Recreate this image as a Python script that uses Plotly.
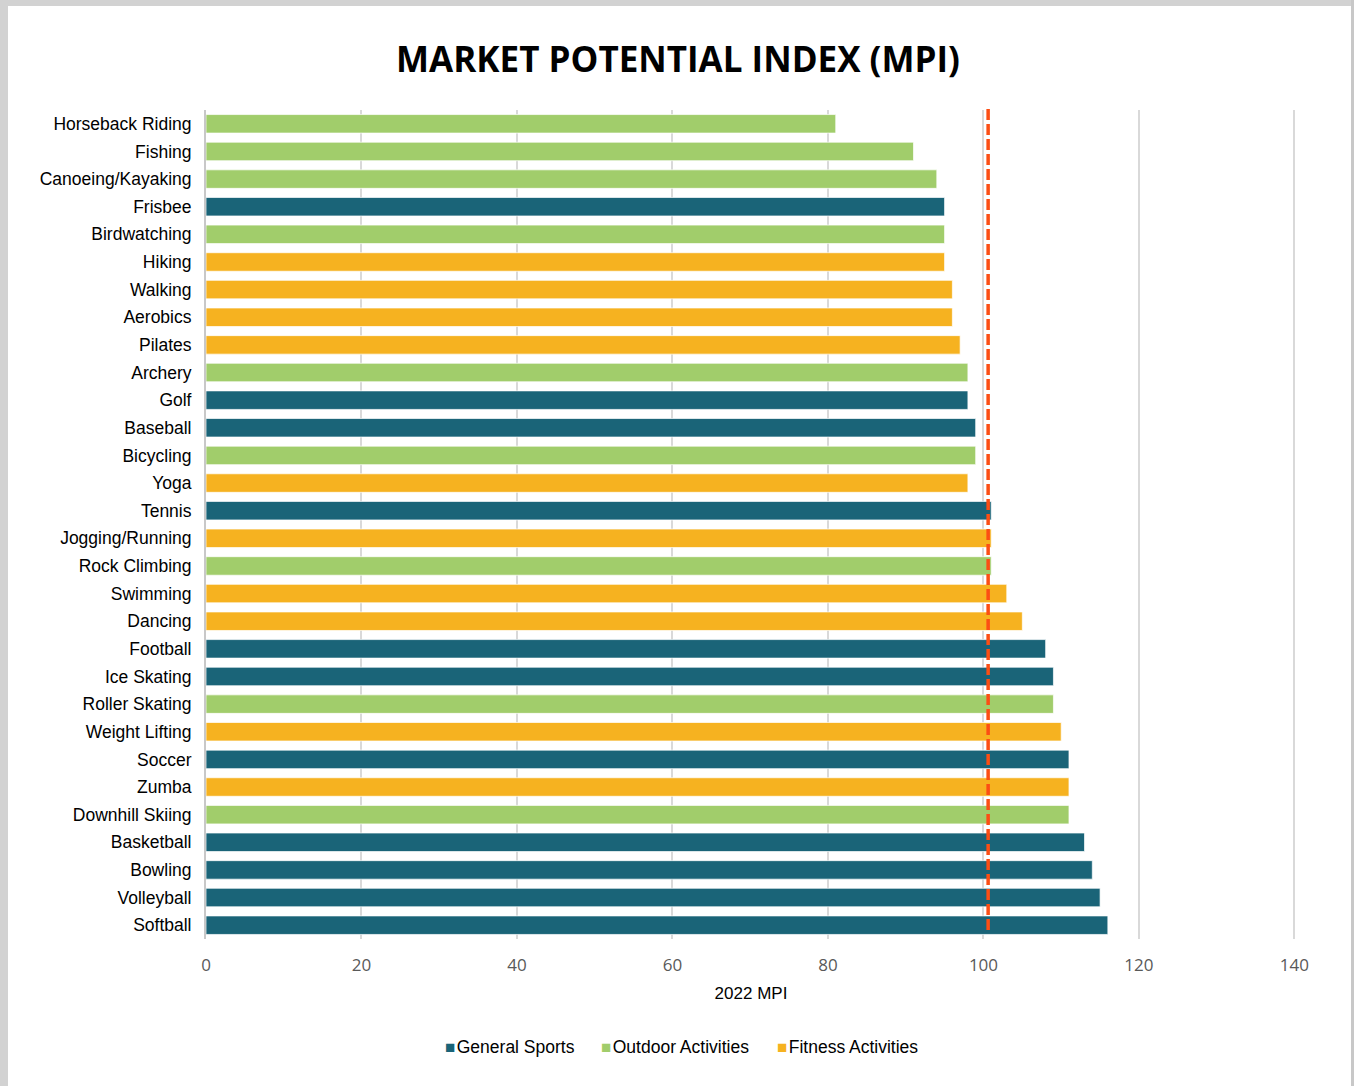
import plotly.graph_objects as go

# ---- data ----
activities = [
    "Horseback Riding", "Fishing", "Canoeing/Kayaking", "Frisbee", "Birdwatching",
    "Hiking", "Walking", "Aerobics", "Pilates", "Archery", "Golf", "Baseball",
    "Bicycling", "Yoga", "Tennis", "Jogging/Running", "Rock Climbing", "Swimming",
    "Dancing", "Football", "Ice Skating", "Roller Skating", "Weight Lifting",
    "Soccer", "Zumba", "Downhill Skiing", "Basketball", "Bowling", "Volleyball",
    "Softball",
]
mpi = [81, 91, 94, 95, 95, 95, 96, 96, 97, 98, 98, 99, 99, 98, 101, 101, 101, 103,
       105, 108, 109, 109, 110, 111, 111, 111, 113, 114, 115, 116]
group = ["Outdoor", "Outdoor", "Outdoor", "General", "Outdoor", "Fitness", "Fitness",
         "Fitness", "Fitness", "Outdoor", "General", "General", "Outdoor", "Fitness",
         "General", "Fitness", "Outdoor", "Fitness", "Fitness", "General", "General",
         "Outdoor", "Fitness", "General", "Fitness", "Outdoor", "General", "General",
         "General", "General"]
series_keys = ["General", "Outdoor", "Fitness"]
series_names = {"General": "General Sports", "Outdoor": "Outdoor Activities",
                "Fitness": "Fitness Activities"}
series_colors = {"General": "#1a6478", "Outdoor": "#a1cd6b", "Fitness": "#f6b220"}
reference_mpi = 100.6
x_ticks = [0, 20, 40, 60, 80, 100, 120, 140]
x_max = 140.2

W, H = 1354, 1086
ML, MR, MT, MB = 206, 58, 110, 147

fig = go.Figure()
for key in series_keys:
    ys = [a for a, g in zip(activities, group) if g == key]
    xs = [v for v, g in zip(mpi, group) if g == key]
    fig.add_trace(go.Bar(
        x=xs, y=ys, orientation="h", name=series_names[key], showlegend=False,
        marker=dict(color=series_colors[key], line=dict(color="rgba(255,255,255,0.7)", width=1)),
    ))

# reference line
fig.add_shape(type="line", xref="x", yref="paper", x0=reference_mpi, x1=reference_mpi,
              y0=0.011, y1=1.002, line=dict(color="#fc4e14", width=3.5, dash="11px,4px"))

pw = W - ML - MR
ph = H - MT - MB
def px(xp):
    return (xp - ML) / pw
def py(yp):
    return 1 - (yp - MT) / ph

# page shadow
for (x0, x1, y0, y1, c) in [
    (0, 8, 0, H, "#d2d2d2"),
    (0, W, 0, 6, "#d2d2d2"),
    (W - 3, W, 0, H, "#c8c8c8"),
]:
    fig.add_shape(type="rect", xref="paper", yref="paper", x0=px(x0), x1=px(x1),
                  y0=py(y1), y1=py(y0), fillcolor=c, line=dict(width=0), layer="below")

# legend drawn as text (small squares close to labels, like the original)
legend_x = [443, 599, 775]
for key, lx in zip(series_keys, legend_x):
    fig.add_annotation(
        xref="paper", yref="paper", x=px(lx), y=py(1047), xanchor="left", yanchor="middle",
        showarrow=False,
        text=f"<span style='color:{series_colors[key]};font-size:17px'>■</span>&#8202;{series_names[key]}",
        font=dict(family="Liberation Sans, Arial", size=17.5, color="black"),
    )

fig.update_layout(
    width=W, height=H,
    margin=dict(l=ML, r=MR, t=MT, b=MB),
    paper_bgcolor="white", plot_bgcolor="white",
    barmode="overlay", bargap=0.33,
    title=dict(text="<b>MARKET POTENTIAL INDEX (MPI)</b>", x=678 / W, xref="container",
               xanchor="center", y=1 - 60 / H, yanchor="middle",
               font=dict(family="Open Sans", size=35, color="black")),
    font=dict(family="Liberation Sans, Arial", size=17, color="black"),
    showlegend=False,
)
fig.update_xaxes(range=[0, x_max], tickvals=x_ticks, showgrid=True, gridcolor="#d9d9d9",
                 gridwidth=2, zeroline=False, showline=False, ticks="",
                 ticklabelstandoff=14,
                 tickfont=dict(family="Open Sans", size=17, color="#595959"),
                 title=dict(text="2022 MPI", font=dict(family="Liberation Sans, Arial", size=17),
                            standoff=12))
fig.update_yaxes(categoryorder="array", categoryarray=activities, autorange="reversed",
                 showline=True, linecolor="#c8c8c8", linewidth=2, ticks="",
                 ticklabelstandoff=9,
                 tickfont=dict(family="Liberation Sans, Arial", size=17.5, color="black"))

fig.write_html("out.html", config={"displayModeBar": False},
               post_script="document.body.style.margin='0';")
